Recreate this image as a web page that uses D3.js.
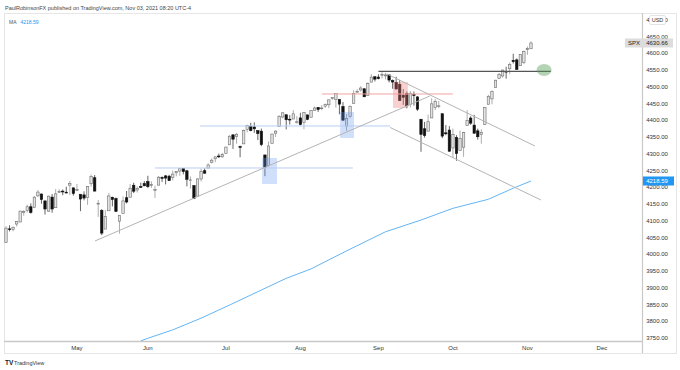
<!DOCTYPE html>
<meta charset="utf-8">
<style>

body {
  margin: 0;
  background: #fff;
}

text {
  font-family: "Liberation Sans", Arial, sans-serif;
}

</style>
<body>
<script src="https://d3js.org/d3.v7.min.js"></script>
<script>

// SPX daily candles, Apr 5 - Nov 2 2021
const dates = [
  "Apr 05","Apr 06","Apr 07","Apr 08","Apr 09","Apr 12","Apr 13","Apr 14","Apr 15","Apr 16",
  "Apr 19","Apr 20","Apr 21","Apr 22","Apr 23","Apr 26","Apr 27","Apr 28","Apr 29","Apr 30",
  "May 03","May 04","May 05","May 06","May 07","May 10","May 11","May 12","May 13","May 14",
  "May 17","May 18","May 19","May 20","May 21","May 24","May 25","May 26","May 27","May 28",
  "Jun 01","Jun 02","Jun 03","Jun 04","Jun 07","Jun 08","Jun 09","Jun 10","Jun 11","Jun 14",
  "Jun 15","Jun 16","Jun 17","Jun 18","Jun 21","Jun 22","Jun 23","Jun 24","Jun 25","Jun 28",
  "Jun 29","Jun 30","Jul 01","Jul 02","Jul 06","Jul 07","Jul 08","Jul 09","Jul 12","Jul 13",
  "Jul 14","Jul 15","Jul 16","Jul 19","Jul 20","Jul 21","Jul 22","Jul 23","Jul 26","Jul 27",
  "Jul 28","Jul 29","Jul 30","Aug 02","Aug 03","Aug 04","Aug 05","Aug 06","Aug 09","Aug 10",
  "Aug 11","Aug 12","Aug 13","Aug 16","Aug 17","Aug 18","Aug 19","Aug 20","Aug 23","Aug 24",
  "Aug 25","Aug 26","Aug 27","Aug 30","Aug 31","Sep 01","Sep 02","Sep 03","Sep 07","Sep 08",
  "Sep 09","Sep 10","Sep 13","Sep 14","Sep 15","Sep 16","Sep 17","Sep 20","Sep 21","Sep 22",
  "Sep 23","Sep 24","Sep 27","Sep 28","Sep 29","Sep 30","Oct 01","Oct 04","Oct 05","Oct 06",
  "Oct 07","Oct 08","Oct 11","Oct 12","Oct 13","Oct 14","Oct 15","Oct 18","Oct 19","Oct 20",
  "Oct 21","Oct 22","Oct 25","Oct 26","Oct 27","Oct 28","Oct 29","Nov 01","Nov 02"
];

const opens = [
  4034.4,4075.6,4074.3,4090.0,4096.1,4124.7,4130.1,4141.6,4139.8,4174.1,
  4179.8,4159.2,4128.4,4170.5,4138.8,4185.0,4188.3,4185.1,4206.1,4198.1,
  4192.0,4179.0,4177.1,4169.1,4210.3,4228.3,4150.3,4130.6,4075.0,4129.6,
  4169.9,4165.9,4098.5,4122.0,4168.6,4170.2,4205.9,4191.6,4201.9,4210.8,
  4216.5,4206.8,4191.4,4206.1,4229.3,4233.8,4233.0,4228.6,4242.9,4248.3,
  4255.3,4248.9,4220.4,4204.8,4173.4,4224.6,4249.3,4257.0,4274.5,4284.9,
  4293.2,4290.7,4300.7,4326.6,4356.5,4351.0,4321.1,4329.4,4372.4,4381.1,
  4380.1,4369.0,4367.4,4296.4,4265.1,4331.1,4361.3,4381.2,4409.6,4416.4,
  4403.0,4403.6,4395.1,4406.9,4392.7,4416.0,4408.9,4429.1,4437.8,4435.8,
  4442.2,4446.1,4464.8,4461.7,4462.1,4440.9,4382.4,4410.6,4450.3,4484.4,
  4490.5,4493.8,4474.1,4513.8,4529.8,4528.8,4534.5,4532.4,4535.4,4518.1,
  4513.0,4506.9,4474.8,4479.3,4447.5,4477.1,4469.7,4403.0,4374.5,4367.4,
  4406.8,4438.0,4442.1,4419.5,4362.4,4370.7,4317.2,4348.8,4309.9,4319.6,
  4383.7,4406.5,4385.4,4368.3,4358.0,4386.8,4447.7,4463.7,4497.3,4524.4,
  4532.2,4546.1,4553.7,4578.7,4580.2,4562.8,4572.9,4610.6,4613.3
];

const highs = [
  4083.4,4086.2,4083.1,4098.2,4129.5,4131.8,4148.0,4151.7,4173.5,4191.3,
  4180.8,4159.2,4175.0,4179.6,4194.2,4194.2,4193.4,4201.5,4218.8,4198.1,
  4209.4,4179.0,4187.7,4202.7,4238.0,4236.4,4162.0,4134.7,4131.6,4183.1,
  4171.9,4169.2,4116.9,4172.8,4188.7,4209.5,4213.4,4202.6,4213.4,4218.4,
  4234.1,4217.4,4204.4,4233.5,4232.3,4236.7,4237.1,4249.7,4248.4,4255.6,
  4257.2,4251.9,4232.3,4204.8,4226.2,4255.8,4256.6,4271.3,4286.1,4292.1,
  4300.5,4302.4,4320.7,4355.4,4356.5,4361.9,4324.3,4372.5,4386.7,4392.4,
  4393.7,4369.0,4375.1,4296.4,4336.8,4359.7,4369.9,4415.2,4422.7,4416.4,
  4415.5,4430.0,4412.3,4422.2,4423.8,4416.2,4429.8,4440.8,4439.4,4445.2,
  4449.4,4461.8,4468.4,4480.3,4462.1,4454.3,4418.6,4444.4,4489.9,4492.8,
  4501.7,4495.9,4513.3,4537.4,4531.4,4537.1,4545.9,4541.5,4535.4,4521.8,
  4529.9,4520.5,4493.0,4485.7,4486.9,4485.9,4471.5,4403.0,4394.9,4416.8,
  4465.4,4463.1,4457.3,4419.5,4385.6,4382.6,4375.2,4355.5,4369.2,4365.6,
  4430.0,4412.0,4415.9,4374.9,4372.9,4439.7,4475.8,4488.8,4520.4,4540.9,
  4551.4,4559.7,4572.6,4598.5,4584.6,4597.6,4608.1,4620.3,4635.2
];

const lows = [
  4034.4,4068.1,4068.3,4082.5,4095.5,4114.8,4124.4,4120.9,4139.8,4170.8,
  4150.5,4118.4,4126.4,4123.7,4138.8,4182.4,4176.2,4181.8,4176.8,4174.9,
  4188.0,4128.6,4160.9,4147.3,4201.6,4188.1,4111.5,4056.9,4075.0,4129.6,
  4142.7,4126.0,4061.4,4122.0,4151.7,4170.2,4182.5,4184.1,4197.8,4203.6,
  4197.6,4198.3,4167.9,4206.1,4215.7,4208.4,4218.7,4220.3,4232.3,4234.1,
  4238.4,4202.5,4196.1,4164.4,4173.4,4217.3,4241.4,4257.0,4271.2,4274.7,
  4287.0,4288.0,4300.7,4326.6,4314.4,4329.8,4289.5,4329.4,4364.0,4366.9,
  4362.4,4340.7,4322.5,4233.1,4262.1,4331.1,4350.1,4381.2,4405.5,4372.5,
  4387.0,4403.6,4389.7,4384.8,4373.0,4400.2,4408.9,4429.1,4424.7,4430.0,
  4436.4,4436.0,4460.8,4437.7,4417.8,4397.6,4367.7,4406.8,4450.3,4482.3,
  4485.7,4469.0,4474.1,4513.8,4515.8,4522.0,4524.7,4521.9,4513.0,4494.0,
  4492.1,4457.7,4445.7,4435.5,4438.4,4443.8,4427.8,4305.9,4348.0,4367.4,
  4406.8,4430.3,4436.2,4346.3,4355.1,4306.2,4288.5,4278.9,4309.9,4290.5,
  4383.7,4386.2,4360.6,4342.1,4329.9,4386.8,4447.7,4447.5,4496.4,4524.4,
  4526.9,4524.0,4537.4,4569.2,4551.7,4562.8,4567.6,4595.1,4613.3
];

const closes = [
  4077.9,4073.9,4080.0,4097.2,4128.8,4128.0,4141.6,4124.7,4170.4,4185.5,
  4163.3,4134.9,4173.4,4135.0,4180.2,4187.6,4186.7,4183.2,4211.5,4181.2,
  4192.7,4164.7,4167.6,4201.6,4232.6,4188.4,4152.1,4063.0,4112.5,4173.9,
  4163.3,4127.8,4115.7,4159.1,4155.9,4197.1,4188.1,4196.0,4200.9,4204.1,
  4202.0,4208.1,4192.9,4229.9,4226.5,4227.3,4219.6,4239.2,4247.4,4255.2,
  4246.6,4223.7,4221.9,4166.5,4224.8,4246.4,4241.8,4266.5,4280.7,4290.6,
  4291.8,4297.5,4319.9,4352.3,4343.5,4358.1,4320.8,4369.6,4384.6,4369.2,
  4374.3,4360.0,4327.2,4258.5,4323.1,4358.7,4367.5,4411.8,4422.3,4401.5,
  4400.6,4419.2,4395.3,4387.2,4423.2,4402.7,4429.1,4436.5,4432.4,4436.8,
  4447.7,4460.8,4468.0,4479.7,4448.1,4400.3,4405.8,4441.7,4479.5,4486.2,
  4496.2,4470.0,4509.4,4528.8,4522.7,4524.1,4537.0,4535.4,4520.0,4514.1,
  4493.3,4458.6,4468.7,4443.1,4480.7,4473.8,4433.0,4357.7,4354.2,4395.6,
  4449.0,4455.5,4443.1,4352.6,4359.5,4307.5,4357.0,4300.5,4345.7,4363.6,
  4399.8,4391.3,4361.2,4350.7,4363.8,4438.3,4471.4,4486.5,4519.6,4536.2,
  4549.8,4544.9,4566.5,4574.8,4551.7,4596.4,4605.4,4613.7,4630.66
];

// moving average (bar index, value)
const maIndex  = [38, 40, 47, 55, 63, 71, 79, 86, 91, 97, 107, 117, 126, 136, 143, 148];
const maValues = [3741, 3749, 3774, 3809, 3848, 3888, 3928, 3956, 3983, 4015, 4067, 4102, 4137, 4164, 4197, 4218.59];

// time axis: bar index of the first session of each month
const monthIndex  = [20, 40, 62, 83, 105, 126, 147, 168];
const monthLabels = ["May", "Jun", "Jul", "Aug", "Sep", "Oct", "Nov", "Dec"];

const priceTicks = [3750, 3800, 3850, 3900, 3950, 4000, 4050, 4100, 4150, 4200,
  4250, 4300, 4350, 4400, 4450, 4500, 4550, 4600, 4650, 4700];

// drawings (bar index, price)
const trendLines = [
  [25.1, 4039.4, 119.5, 4472.4],   // rising support
  [107.4, 4538.1, 149.1, 4323.1],  // channel top
  [108.3, 4378.4, 150.8, 4161.9]   // channel bottom
];
const highLine = [105, 153.6, 4545.9];
const redLine = [89.1, 126.0, 4478.4];
const blueLines = [
  [54.7, 108.3, 4382.8],
  [42.0, 97.8, 4257.4]
];
const redBoxes = [[109.1, 113.3, 4514.2, 4436.6]];
const blueBoxes = [
  [94.2, 98.1, 4424.6, 4347.0],
  [72.2, 76.4, 4287.3, 4209.6]
];
const target = [151.7, 4550];

const width = 680;
const height = 370;
const plot = {left: 4, right: 642, top: 13, bottom: 341};
const axisRight = 676;
const frameBottom = 353;

const xScale = d3.scaleLinear()
    .domain([-0.56, 179.3])
    .range([plot.left, plot.right]);

const yScale = d3.scaleLinear()
    .domain([3740.8, 4720.2])
    .range([plot.bottom, plot.top]);

const candles = dates.map((d, i) => ({
  i: i, date: d, open: opens[i], high: highs[i], low: lows[i], close: closes[i]
}));

const svg = d3.select("body").append("svg")
    .attr("width", width)
    .attr("height", height);

const defs = svg.append("defs");

defs.append("clipPath")
    .attr("id", "plotclip")
  .append("rect")
    .attr("x", plot.left)
    .attr("y", plot.top)
    .attr("width", plot.right - plot.left)
    .attr("height", plot.bottom - plot.top);

defs.append("clipPath")
    .attr("id", "axisclip")
  .append("rect")
    .attr("x", plot.right)
    .attr("y", plot.top)
    .attr("width", axisRight - plot.right)
    .attr("height", plot.bottom - plot.top);

// frame
svg.append("rect")
    .attr("x", plot.left + 0.5)
    .attr("y", plot.top + 0.5)
    .attr("width", axisRight - plot.left)
    .attr("height", frameBottom - plot.top)
    .attr("fill", "none")
    .attr("stroke", "#e6e6e6");

svg.append("line")
    .attr("x1", plot.left).attr("x2", plot.right)
    .attr("y1", plot.bottom + 0.5).attr("y2", plot.bottom + 0.5)
    .attr("stroke", "#c8c8c8")
    .attr("stroke-width", 1.5);

svg.append("line")
    .attr("x1", plot.right + 0.5).attr("x2", plot.right + 0.5)
    .attr("y1", plot.top).attr("y2", frameBottom)
    .attr("stroke", "#c8c8c8")
    .attr("stroke-width", 1.2);

const g = svg.append("g")
    .attr("clip-path", "url(#plotclip)");

// moving average
const maLine = d3.line()
    .x(d => xScale(d[0]))
    .y(d => yScale(d[1]));

g.append("path")
    .datum(maIndex.map((d, i) => [d, maValues[i]]))
    .attr("d", maLine)
    .attr("fill", "none")
    .attr("stroke", "#64b5f6")
    .attr("stroke-width", 1);

// candles
const bodyWidth = 2.4;

g.selectAll("line.wick")
  .data(candles)
  .enter()
  .append("line")
    .attr("class", "wick")
    .attr("x1", d => xScale(d.i))
    .attr("x2", d => xScale(d.i))
    .attr("y1", d => yScale(d.high))
    .attr("y2", d => yScale(d.low))
    .attr("stroke", d => d.close >= d.open ? "#8a8a8a" : "#222")
    .attr("stroke-width", 0.7);

g.selectAll("rect.body")
  .data(candles)
  .enter()
  .append("rect")
    .attr("class", "body")
    .attr("x", d => xScale(d.i) - bodyWidth / 2)
    .attr("y", d => yScale(Math.max(d.open, d.close)))
    .attr("width", bodyWidth)
    .attr("height", d => Math.max(0.8, Math.abs(yScale(d.open) - yScale(d.close))))
    .attr("fill", d => d.close >= d.open ? "#e2e2e2" : "#111")
    .attr("stroke", d => d.close >= d.open ? "#6e6e6e" : "#111")
    .attr("stroke-width", 0.6);

// drawings
g.selectAll("rect.bluebox")
  .data(blueBoxes)
  .enter()
  .append("rect")
    .attr("x", d => xScale(d[0]))
    .attr("width", d => xScale(d[1]) - xScale(d[0]))
    .attr("y", d => yScale(d[2]))
    .attr("height", d => yScale(d[3]) - yScale(d[2]))
    .attr("fill", "rgba(110,155,240,0.32)");

g.selectAll("rect.redbox")
  .data(redBoxes)
  .enter()
  .append("rect")
    .attr("x", d => xScale(d[0]))
    .attr("width", d => xScale(d[1]) - xScale(d[0]))
    .attr("y", d => yScale(d[2]))
    .attr("height", d => yScale(d[3]) - yScale(d[2]))
    .attr("fill", "rgba(235,120,120,0.35)");

g.selectAll("line.blue")
  .data(blueLines)
  .enter()
  .append("line")
    .attr("x1", d => xScale(d[0]))
    .attr("x2", d => xScale(d[1]))
    .attr("y1", d => yScale(d[2]))
    .attr("y2", d => yScale(d[2]))
    .attr("stroke", "#b9cdf3")
    .attr("stroke-width", 1);

g.append("line")
    .attr("x1", xScale(redLine[0]))
    .attr("x2", xScale(redLine[1]))
    .attr("y1", yScale(redLine[2]))
    .attr("y2", yScale(redLine[2]))
    .attr("stroke", "#f2a5a5")
    .attr("stroke-width", 1);

g.selectAll("line.trend")
  .data(trendLines)
  .enter()
  .append("line")
    .attr("x1", d => xScale(d[0]))
    .attr("y1", d => yScale(d[1]))
    .attr("x2", d => xScale(d[2]))
    .attr("y2", d => yScale(d[3]))
    .attr("stroke", "#b4b4b4")
    .attr("stroke-width", 1);

g.append("line")
    .attr("x1", xScale(highLine[0]))
    .attr("x2", xScale(highLine[1]))
    .attr("y1", yScale(highLine[2]))
    .attr("y2", yScale(highLine[2]))
    .attr("stroke", "#555")
    .attr("stroke-width", 1.1);

g.append("ellipse")
    .attr("cx", xScale(target[0]))
    .attr("cy", yScale(target[1]))
    .attr("rx", 7.5)
    .attr("ry", 6)
    .attr("fill", "rgba(90,160,90,0.45)");

// price axis
const priceAxis = svg.append("g")
    .attr("clip-path", "url(#axisclip)");

priceAxis.selectAll("text")
  .data(priceTicks)
  .enter()
  .append("text")
    .attr("x", 657)
    .attr("y", d => yScale(d))
    .attr("dy", "0.35em")
    .attr("text-anchor", "middle")
    .attr("font-size", 6)
    .attr("fill", "#333")
    .text(d => d3.format(".2f")(d));

svg.append("rect")
    .attr("x", 649.5).attr("y", 15.5)
    .attr("width", 16).attr("height", 9)
    .attr("rx", 1.5)
    .attr("fill", "#fff")
    .attr("stroke", "#d0d0d0")
    .attr("stroke-width", 0.6);

svg.append("text")
    .attr("x", 657.5).attr("y", 20)
    .attr("dy", "0.35em")
    .attr("text-anchor", "middle")
    .attr("font-size", 5.5)
    .attr("fill", "#333")
    .text("USD");

// last price label
const lastY = yScale(closes[closes.length - 1]);

svg.append("rect")
    .attr("x", 625).attr("y", lastY - 4.5)
    .attr("width", 48).attr("height", 9)
    .attr("fill", "#dcdcdc");

svg.append("text")
    .attr("x", 628).attr("y", lastY)
    .attr("dy", "0.35em")
    .attr("font-size", 6)
    .attr("fill", "#222")
    .text("SPX");

svg.append("text")
    .attr("x", 657).attr("y", lastY)
    .attr("dy", "0.35em")
    .attr("text-anchor", "middle")
    .attr("font-size", 6)
    .attr("fill", "#222")
    .text(d3.format(".2f")(closes[closes.length - 1]));

// MA label
const maY = yScale(maValues[maValues.length - 1]);

svg.append("rect")
    .attr("x", plot.right + 1).attr("y", maY - 4.5)
    .attr("width", 31).attr("height", 9)
    .attr("fill", "#2196f3");

svg.append("text")
    .attr("x", 657).attr("y", maY)
    .attr("dy", "0.35em")
    .attr("text-anchor", "middle")
    .attr("font-size", 6)
    .attr("fill", "#fff")
    .text(d3.format(".2f")(maValues[maValues.length - 1]));

// time axis
svg.selectAll("text.month")
  .data(monthIndex)
  .enter()
  .append("text")
    .attr("class", "month")
    .attr("x", d => xScale(d))
    .attr("y", 347.5)
    .attr("dy", "0.35em")
    .attr("text-anchor", "middle")
    .attr("font-size", 6)
    .attr("fill", "#333")
    .text((d, i) => monthLabels[i]);

// header
svg.append("text")
    .attr("x", 5).attr("y", 9.5)
    .attr("font-size", 5.5)
    .attr("fill", "#444")
    .text("PaulRobinsonFX published on TradingView.com, Nov 03, 2021 08:20 UTC-4");

const legend = svg.append("text")
    .attr("x", 9).attr("y", 23.5)
    .attr("font-size", 5);

legend.append("tspan")
    .attr("fill", "#555")
    .text("MA");

legend.append("tspan")
    .attr("dx", 4)
    .attr("fill", "#2196f3")
    .text(d3.format(".2f")(maValues[maValues.length - 1]));

// footer logo
svg.append("text")
    .attr("x", 5).attr("y", 364.5)
    .attr("font-size", 6.5)
    .attr("font-weight", "bold")
    .attr("fill", "#131722")
    .text("TV");

svg.append("text")
    .attr("x", 14).attr("y", 364.5)
    .attr("font-size", 5.5)
    .attr("fill", "#333")
    .text("TradingView");

</script>
